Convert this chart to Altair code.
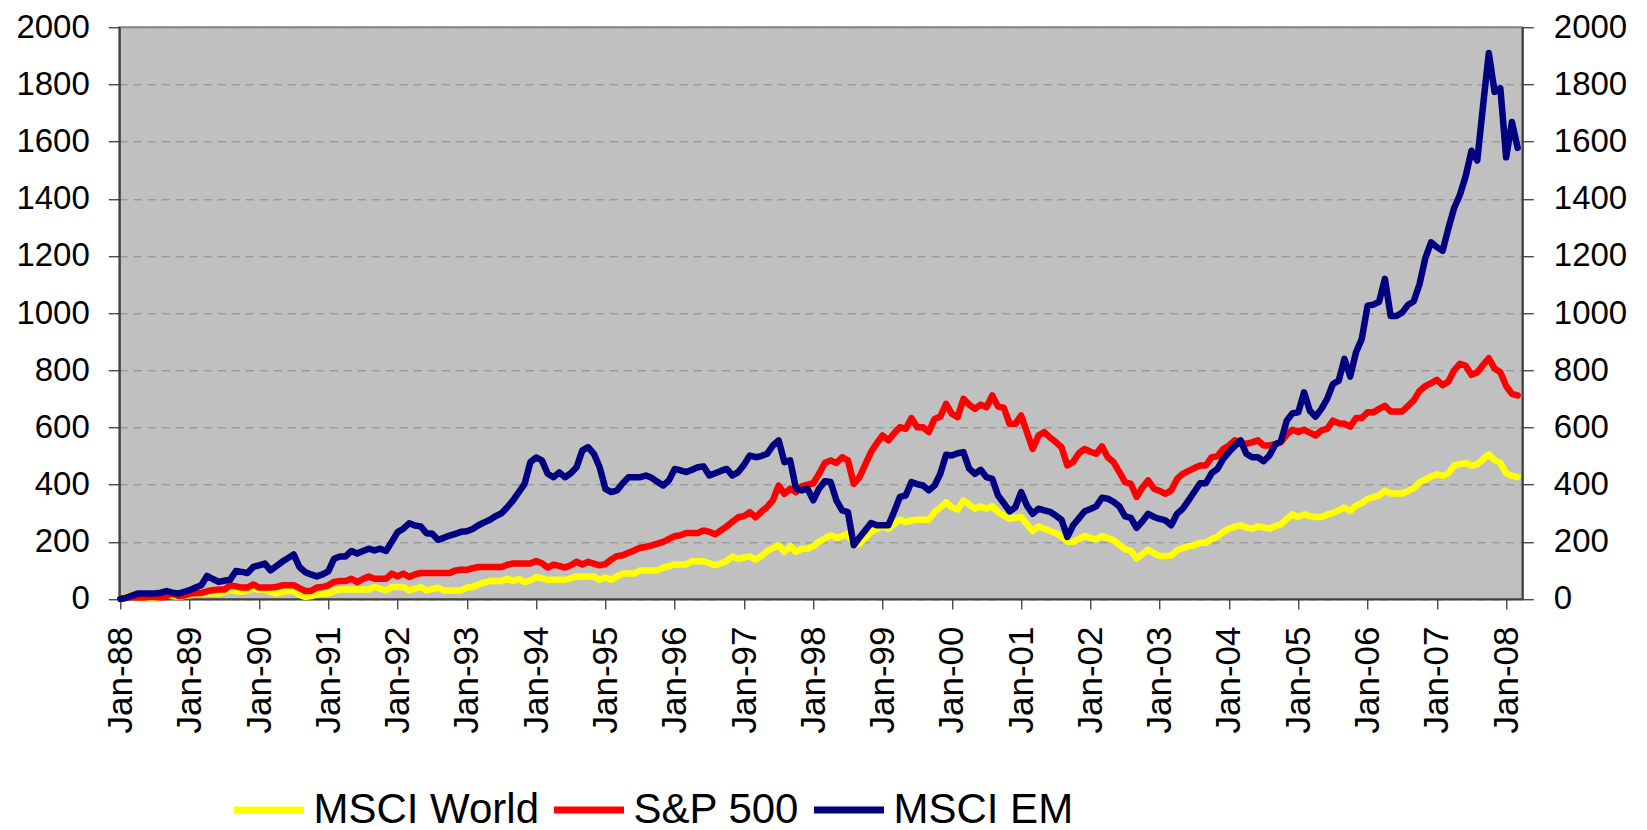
import altair as alt
import pandas as pd

SERIES = ["MSCI World", "S&P 500", "MSCI EM"]
COLORS = ["#FFFF00", "#FF0000", "#000080"]

TICK_LABELS = ["Jan-88", "Jan-89", "Jan-90", "Jan-91", "Jan-92", "Jan-93", "Jan-94",
               "Jan-95", "Jan-96", "Jan-97", "Jan-98", "Jan-99", "Jan-00", "Jan-01",
               "Jan-02", "Jan-03", "Jan-04", "Jan-05", "Jan-06", "Jan-07", "Jan-08"]
X_TICKS = [0, 12, 24, 36, 48, 60, 72, 84, 96, 108, 120, 132, 144, 156, 168, 180,
           192, 204, 216, 228, 240]
Y_TICKS = [0, 200, 400, 600, 800, 1000, 1200, 1400, 1600, 1800, 2000]

# monthly values, Jan-88 .. Mar-08
MSCI_WORLD = [
    0, 10, 12, 5, 3, 3, 3, 5, 13, 10, 7, 10,
    13, 16, 20, 21, 20, 19, 25, 31, 28, 25, 30, 36,
    33, 31, 25, 19, 24, 28, 28, 15, 7, 10, 16, 19,
    19, 28, 33, 33, 33, 33, 33, 33, 42, 36, 30, 42,
    42, 42, 30, 36, 42, 30, 35, 40, 30, 30, 30, 30,
    40, 42, 51, 57, 63, 63, 63, 71, 63, 71, 59, 65,
    77, 72, 67, 67, 67, 67, 72, 79, 79, 79, 79, 67,
    75, 67, 79, 89, 89, 89, 100, 100, 100, 100, 110, 115,
    121, 121, 121, 132, 132, 132, 125, 118, 125, 133, 149, 141,
    145, 149, 138, 150, 168, 178, 188, 165, 185, 165, 176, 176,
    185, 200, 212, 223, 214, 220, 228, 188, 193, 215, 234, 245,
    254, 246, 262, 277, 269, 275, 277, 277, 277, 304, 320, 339,
    321, 313, 345, 330, 316, 324, 316, 324, 304, 292, 281, 284,
    287, 262, 238, 254, 246, 238, 231, 218, 200, 200, 210, 220,
    214, 208, 220, 213, 206, 190, 174, 169, 142, 157, 172, 160,
    150, 150, 152, 171, 178, 185, 188, 197, 197, 210, 218, 235,
    246, 252, 258, 250, 246, 254, 250, 246, 255, 261, 280, 296,
    287, 296, 290, 287, 287, 295, 301, 310, 320, 308, 327, 335,
    350, 356, 362, 379, 369, 369, 369, 378, 388, 408, 418, 428,
    436, 431, 440, 467, 472, 476, 467, 471, 489, 506, 486, 476,
    440, 431, 427,
]

SP500 = [
    0, 4, 7, 5, 5, 7, 7, 5, 10, 19, 10, 12,
    19, 20, 21, 27, 31, 33, 33, 48, 44, 40, 40, 51,
    40, 40, 40, 42, 48, 48, 48, 38, 28, 28, 40, 42,
    48, 60, 63, 63, 71, 59, 70, 79, 71, 71, 71, 89,
    79, 89, 77, 86, 91, 91, 91, 91, 91, 91, 100, 102,
    102, 108, 112, 112, 112, 112, 112, 120, 124, 124, 124, 124,
    133, 125, 110, 120, 116, 110, 118, 130, 121, 130, 124, 118,
    122, 138, 150, 153, 162, 170, 179, 182, 188, 194, 200, 210,
    220, 223, 231, 231, 231, 240, 235, 226, 240, 254, 270, 286,
    290, 304, 286, 305, 322, 345, 397, 368, 386, 374, 394, 400,
    405, 438, 476, 485, 476, 496, 485, 403, 426, 470, 514, 545,
    572, 555, 580, 601, 595, 633, 601, 601, 584, 630, 638, 683,
    648, 636, 700, 680, 665, 680, 671, 712, 673, 669, 613, 613,
    642, 584, 525, 572, 584, 565, 549, 531, 467, 479, 510, 525,
    515, 508, 534, 496, 479, 445, 409, 403, 357, 390, 415, 386,
    378, 368, 380, 420, 438, 448, 458, 467, 467, 496, 499, 525,
    537, 555, 548, 543, 548, 555, 537, 537, 542, 549, 575, 592,
    584, 592, 582, 572, 590, 595, 624, 615, 613, 603, 633, 633,
    653, 653, 665, 676, 656, 656, 656, 675, 695, 728, 745, 755,
    767, 748, 761, 800, 823, 816, 784, 793, 819, 842, 806, 793,
    745, 718, 712,
]

MSCI_EM = [
    0, 5, 12, 19, 19, 19, 19, 22, 28, 22, 19, 25,
    31, 40, 48, 81, 70, 60, 64, 68, 98, 95, 91, 112,
    118, 124, 100, 115, 130, 143, 156, 112, 94, 86, 79, 86,
    97, 141, 149, 149, 168, 159, 168, 176, 170, 176, 168, 200,
    234, 246, 265, 257, 254, 230, 228, 207, 214, 222, 228, 235,
    237, 245, 258, 268, 277, 290, 300, 321, 345, 374, 403, 479,
    495, 485, 438, 426, 443, 426, 440, 461, 520, 531, 508, 461,
    385, 374, 380, 405, 426, 426, 426, 432, 424, 410, 397, 415,
    455, 450, 444, 452, 461, 464, 432, 440, 448, 455, 432, 444,
    470, 502, 496, 500, 508, 537, 555, 479, 485, 386, 380, 386,
    345, 386, 412, 409, 345, 310, 304, 188, 215, 240, 266, 258,
    258, 258, 305, 357, 362, 409, 402, 397, 380, 397, 438, 505,
    502, 510, 514, 456, 438, 452, 426, 420, 362, 335, 307, 321,
    374, 327, 298, 316, 310, 305, 292, 277, 217, 258, 282, 307,
    315, 324, 354, 351, 340, 324, 289, 284, 249, 272, 298, 287,
    280, 275, 258, 298, 316, 345, 375, 405, 405, 440, 455, 490,
    514, 535, 555, 508, 496, 496, 482, 502, 540, 552, 624, 650,
    653, 723, 659, 638, 665, 700, 752, 764, 840, 778, 863, 910,
    1026, 1030, 1040, 1120, 990, 990, 1002, 1029, 1042, 1101, 1192, 1248,
    1231, 1218, 1297, 1368, 1414, 1480, 1568, 1534, 1725, 1910, 1774, 1787,
    1545, 1669, 1578,
]

rows = []
for name, vals in zip(SERIES, [MSCI_WORLD, SP500, MSCI_EM]):
    for i, v in enumerate(vals):
        rows.append({"month": i, "value": v, "series": name})
df = pd.DataFrame(rows)

FONT = "Liberation Sans"
label_expr = "[" + ",".join("'%s'" % t for t in TICK_LABELS) + "][round(datum.value / 12)]"

x_enc = alt.X(
    "month:Q",
    scale=alt.Scale(domain=[-0.2, 242.8], nice=False, zero=False),
    axis=alt.Axis(values=X_TICKS, labelExpr=label_expr, labelAngle=270,
                  labelFontSize=35, labelPadding=17, tickSize=10, grid=False,
                  labelFlush=False, labelOverlap=False, title=None),
)

y_scale = alt.Scale(domain=[0, 2000], nice=False, zero=True)
y_left = alt.Y("value:Q", scale=y_scale,
               axis=alt.Axis(orient="left", values=Y_TICKS, grid=True,
                             gridColor="#8a8a8a", gridDash=[8, 6], gridWidth=1,
                             labelFontSize=33, labelPadding=19, tickSize=11,
                             format="d", title=None))
y_none = alt.Y("value:Q", scale=y_scale, axis=None)
y_right = alt.Y("value:Q", scale=y_scale,
                axis=alt.Axis(orient="right", values=Y_TICKS, grid=False,
                              labelFontSize=33, labelPadding=20, tickSize=11,
                              format="d", title=None))

color_enc = alt.Color(
    "series:N",
    scale=alt.Scale(domain=SERIES, range=COLORS),
    legend=alt.Legend(orient="none", legendX=111.2, legendY=744, direction="horizontal",
                      title=None, symbolType="stroke", symbolSize=4900,
                      symbolStrokeWidth=7, labelFontSize=42, labelFont=FONT,
                      labelColor="#000000", labelOffset=6, columnPadding=0,
                      padding=0, labelLimit=500),
)

base = alt.Chart(df)
layers = []
for k, s in enumerate(SERIES):
    layers.append(
        base.transform_filter(alt.datum.series == s)
        .mark_line(strokeWidth=6.5, strokeJoin="round", strokeCap="round")
        .encode(x=x_enc, y=y_left if k == 0 else y_none, color=color_enc)
    )
layers.append(
    base.transform_filter(alt.datum.series == SERIES[2])
    .mark_line(opacity=0)
    .encode(x=x_enc, y=y_right)
)

chart = (
    alt.layer(*layers)
    .resolve_scale(y="independent")
    .properties(
        width=1403, height=571.7,
        padding={"left": 111.3, "top": 19.3, "right": 116, "bottom": 232},
        autosize=alt.AutoSizeParams(type="none"),
        background="#FFFFFF",
    )
    .configure_view(fill="#C0C0C0", stroke="#808080", strokeWidth=2)
    .configure_axis(labelFont=FONT, labelColor="#000000", tickColor="#000000",
                    tickWidth=1, domainColor="#404040", domainWidth=2)
)

chart.save("out.html", embed_options={"renderer": "svg", "actions": False})
